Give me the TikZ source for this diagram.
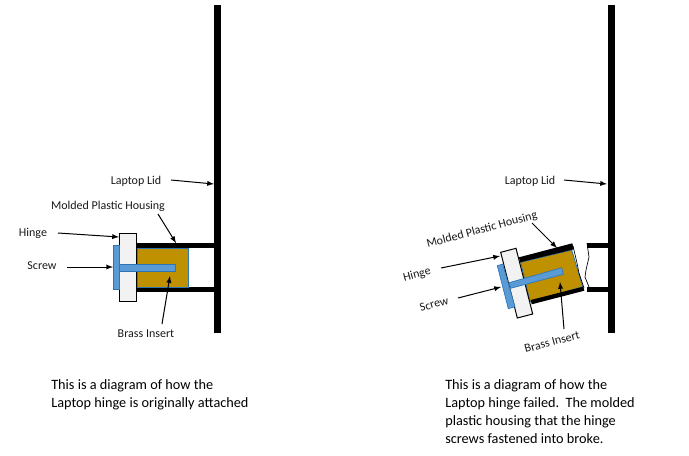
\documentclass[tikz,border=0pt]{standalone}
\usepackage{fontspec}
\setmainfont{Carlito}
\definecolor{BrassFill}{HTML}{BF9000}
\definecolor{ScrewBlue}{HTML}{5B9BD5}
\definecolor{EdgeBlue}{HTML}{2E75B6}
\definecolor{HingeGray}{HTML}{F2F2F2}
\tikzset{
  lidbar/.style={fill=black},
  brassbox/.style={fill=BrassFill, draw=EdgeBlue, line width=0.6pt},
  hingebox/.style={fill=HingeGray, draw=black, line width=0.75pt},
  screwbox/.style={fill=ScrewBlue, draw=EdgeBlue, line width=0.5pt},
  partlabel/.style={font=\fontsize{9}{10}\selectfont, text=black!90, inner sep=0pt},
  notelabel/.style={font=\fontsize{10.7}{13.5}\selectfont, text=black, inner sep=0pt, align=left, anchor=north west},
  pointer/.style={-latex, line width=0.75pt}
}

\begin{document}
\begin{tikzpicture}[x=0.75pt, y=-0.75pt]
    \useasboundingbox (0,0) rectangle (689,455);

    % =========================================
    % 1. Left: original attachment
    % =========================================
    \fill[lidbar] (214,5) rectangle (221,333);
    \fill[lidbar] (136,243) rectangle (214,248);
    \fill[lidbar] (136,287) rectangle (214,292);

    \draw[brassbox] (137,248) rectangle (188,287);
    \draw[hingebox] (119,233) rectangle (136,301);
    \draw[screwbox] (113,245) rectangle (119,289);
    \draw[screwbox] (119,264) rectangle (175,271);

    % labels
    \node[partlabel] (LidLabelA) at (136,181) {Laptop Lid};
    \node[partlabel] (HousingLabelA) at (108,206) {Molded Plastic Housing};
    \node[partlabel] (HingeLabelA) at (33,233) {Hinge};
    \node[partlabel] (ScrewLabelA) at (42,266) {Screw};
    \node[partlabel] (BrassLabelA) at (146,334) {Brass Insert};

    % pointers
    \coordinate (LidFromA) at (171,180);
    \coordinate (LidTipA) at (214,184);
    \coordinate (HousingFromA) at (158,214);
    \coordinate (HousingTipA) at (176,243);
    \coordinate (HingeFromA) at (58,233);
    \coordinate (HingeTipA) at (119,237);
    \coordinate (ScrewFromA) at (67,267);
    \coordinate (ScrewTipA) at (113,267);
    \coordinate (BrassFromA) at (162,324);
    \coordinate (BrassTipA) at (170,276);
    \draw[pointer] (LidFromA) -- (LidTipA);
    \draw[pointer] (HousingFromA) -- (HousingTipA);
    \draw[pointer] (HingeFromA) -- (HingeTipA);
    \draw[pointer] (ScrewFromA) -- (ScrewTipA);
    \draw[pointer] (BrassFromA) -- (BrassTipA);

    \node[notelabel] (NoteA) at (51,379) {This is a diagram of how the\\Laptop hinge is originally attached};

    % =========================================
    % 2. Right: failed attachment
    % =========================================
    \fill[lidbar] (608,5) rectangle (615,333);
    \fill[lidbar] (587,243) rectangle (608,248);
    \fill[lidbar] (587,287) rectangle (608,292);
    % broken edge on the housing stubs
    \draw[line width=0.5pt] (587,243) -- (589,257) -- (586,270) -- (585,277) -- (589,287);

    \draw[brassbox] (520.7,262.3) -- (571.7,250) -- (582.7,286.7) -- (530,301.7) -- cycle;
    \fill[lidbar] (519,257.3) -- (572.3,243.3) -- (574,249.3) -- (520,262.3) -- cycle;
    \fill[lidbar] (530.7,300) -- (583.3,286.7) -- (584.3,290.7) -- (531.7,304.3) -- cycle;
    \draw[line width=0.5pt] (573,246) -- (577,263) -- (579,273) -- (584,288);
    \draw[hingebox] (500.7,252.3) -- (516,248.3) -- (532.7,314) -- (517.3,318) -- cycle;
    \draw[screwbox] (497.3,265.7) -- (502.7,264) -- (515,306.7) -- (508.3,308.7) -- cycle;
    \draw[screwbox] (509,282.7) -- (561.7,267.7) -- (563.3,274.3) -- (510.7,288.3) -- cycle;

    % labels
    \node[partlabel] (LidLabelB) at (530,181) {Laptop Lid};
    \node[partlabel, rotate=15] (HousingLabelB) at (482,230) {Molded Plastic Housing};
    \node[partlabel, rotate=15] (HingeLabelB) at (417,275) {Hinge};
    \node[partlabel, rotate=15] (ScrewLabelB) at (434,304) {Screw};
    \node[partlabel, rotate=15] (BrassLabelB) at (552,342) {Brass Insert};

    % pointers
    \coordinate (LidFromB) at (564,180);
    \coordinate (LidTipB) at (607,184);
    \coordinate (HousingFromB) at (532,223);
    \coordinate (HousingTipB) at (557,248);
    \coordinate (HingeFromB) at (441,268);
    \coordinate (HingeTipB) at (500,256);
    \coordinate (ScrewFromB) at (458,298);
    \coordinate (ScrewTipB) at (501,287);
    \coordinate (BrassFromB) at (564,329);
    \coordinate (BrassTipB) at (560,282);
    \draw[pointer] (LidFromB) -- (LidTipB);
    \draw[pointer] (HousingFromB) -- (HousingTipB);
    \draw[pointer] (HingeFromB) -- (HingeTipB);
    \draw[pointer] (ScrewFromB) -- (ScrewTipB);
    \draw[pointer] (BrassFromB) -- (BrassTipB);

    \node[notelabel] (NoteB) at (445,379) {This is a diagram of how the\\Laptop hinge failed.\ \ The molded\\plastic housing that the hinge\\screws fastened into broke.};

\end{tikzpicture}
\end{document}
